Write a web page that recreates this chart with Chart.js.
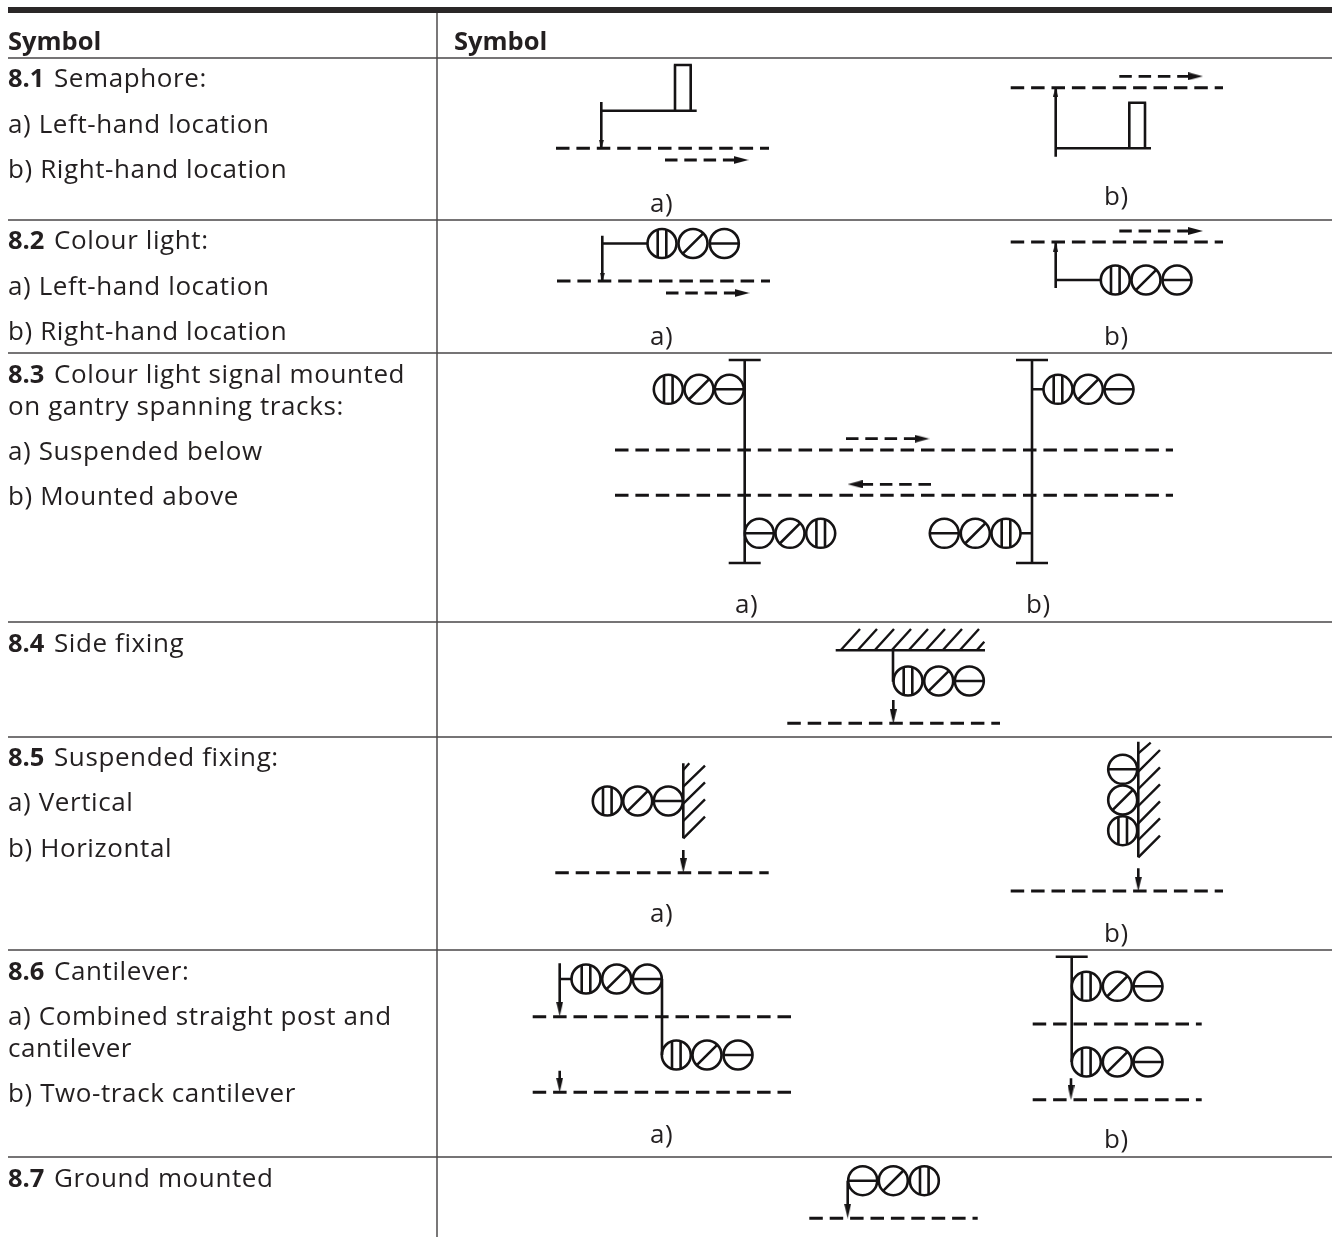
<!DOCTYPE html>
<html>
<head>
<meta charset="utf-8">
<title>Symbols</title>
<script src="https://cdn.jsdelivr.net/npm/chart.js@4/dist/chart.umd.js"></script>
<style>
html, body { margin: 0; padding: 0; background: #fff; }
canvas { display: block; }
</style>
</head>
<body>
<canvas id="chart" width="1332" height="1237"></canvas>
<script>
// everything below is in picture units, x to the right, y downwards
var heavyRule = [[8, 10, 1332, 10]];
var rowRules = [
    [8, 58, 1332, 58], [8, 220, 1332, 220], [8, 353, 1332, 353], [8, 622, 1332, 622],
    [8, 737, 1332, 737], [8, 950, 1332, 950], [8, 1157, 1332, 1157]
];
var columnRule = [[437, 13, 437, 1237]];

var trackLines = [
    [556, 148.3, 769, 148.3], [1010.7, 87.7, 1223, 87.7],
    [557, 281, 770, 281], [1010.7, 242, 1223, 242],
    [615, 450, 1173, 450], [615, 495.3, 1173, 495.3],
    [787.3, 723.3, 1000, 723.3],
    [555.3, 872.7, 768.7, 872.7], [1010.7, 891, 1223, 891],
    [532.7, 1016.7, 791.7, 1016.7], [532.7, 1092.3, 791.7, 1092.3],
    [1032.7, 1024, 1201.7, 1024], [1032.7, 1099.7, 1201.7, 1099.7],
    [809.3, 1218.3, 977.7, 1218.3]
];
var directionLines = [
    [665, 160, 735.4, 160], [1119.3, 76.3, 1189.7, 76.3],
    [666, 293, 736.4, 293], [1119.3, 231, 1189.7, 231],
    [846, 438.7, 916.4, 438.7], [931, 484.3, 860.6, 484.3]
];
var postLines = [
    // 8.1
    [601.3, 102, 601.3, 148], [601.3, 110.7, 696.7, 110.7],
    [675, 65, 675, 110.7], [690.7, 65, 690.7, 110.7], [673.8, 65, 691.9, 65],
    [1055.7, 88, 1055.7, 156.7], [1055.7, 148.3, 1151, 148.3],
    [1129.3, 102.7, 1129.3, 148.3], [1145, 102.7, 1145, 148.3], [1128.1, 102.7, 1146.2, 102.7],
    // 8.2
    [602.3, 235.7, 602.3, 281], [602.3, 243.5, 648, 243.5],
    [1055.7, 242, 1055.7, 288], [1055.7, 280, 1101, 280],
    // 8.3
    [744.7, 360, 744.7, 563], [728.7, 360, 760.7, 360], [728.7, 563, 760.7, 563],
    [1032, 360, 1032, 563], [1016, 360, 1048, 360], [1016, 563, 1048, 563],
    [1032, 389.3, 1044, 389.3], [1020, 533.3, 1032, 533.3],
    // 8.4
    [835.7, 650.3, 985, 650.3], [893, 650.3, 893, 681.7], [893.3, 700, 893.3, 715],
    // 8.5
    [683.3, 763.3, 683.3, 838.3], [683.3, 850, 683.3, 862],
    [1138.3, 741.7, 1138.3, 857.3], [1138.3, 868.3, 1138.3, 880],
    // 8.6
    [559.7, 963.3, 559.7, 1006], [559.7, 979, 572, 979], [662, 979, 662, 1055],
    [559.7, 1070.7, 559.7, 1082],
    [1071.7, 956.7, 1071.7, 1062], [1055.7, 956.7, 1087.7, 956.7], [1071, 1078.3, 1071, 1090],
    // 8.7
    [847.7, 1180.7, 847.7, 1207]
];
var hatchLines = [
    [840.7, 650.3, 860, 629], [857.7, 650.3, 877, 629], [874.7, 650.3, 894, 629], [891.7, 650.3, 911, 629],
    [908.7, 650.3, 928, 629], [925.7, 650.3, 945, 629], [942.7, 650.3, 962, 629], [959.7, 650.3, 979, 629],
    [976.7, 650.3, 984.3, 641.7],
    [683.3, 838.3, 705, 816.7], [683.3, 821, 705, 799.3], [683.3, 803.7, 705, 782.3], [683.3, 786.7, 705, 765.7],
    [683.3, 770, 689.3, 763.3],
    [1138.3, 857.3, 1160, 835.7], [1138.3, 840, 1160, 818.3], [1138.3, 823.3, 1160, 801.3], [1138.3, 806, 1160, 784.3],
    [1138.3, 789, 1160, 767.3], [1138.3, 771.7, 1160, 750], [1138.3, 753.3, 1150.7, 742.7]
];

var lampsVertical = [
    [662, 243.5], [1115.3, 280], [668.3, 389.3], [820.7, 533.3], [1058, 389.3], [1006, 533.3],
    [908, 681], [607.3, 801], [1122.7, 830.7], [586, 979], [676.3, 1055], [1086.3, 986.3], [1086.3, 1062],
    [924.3, 1180.7]
];
var lampsDiagonal = [
    [693, 243.5], [1146, 280], [699, 389.3], [790, 533.3], [1088.3, 389.3], [975.3, 533.3],
    [938.7, 681], [637.7, 801], [1122.7, 800], [616.7, 979], [707, 1055], [1117.3, 986.3], [1117.3, 1062],
    [893.3, 1180.7]
];
var lampsHorizontal = [
    [724.3, 243.5], [1177, 280], [729.3, 389.3], [759.3, 533.3], [1119, 389.3], [944.3, 533.3],
    [969.3, 681], [668.3, 801], [1122.7, 769.3], [647.3, 979], [738, 1055], [1148, 986.3], [1148, 1062],
    [862.7, 1180.7]
];

// arrow heads: x, y of the head centre and the direction in degrees
var wideHeads = [
    [741, 160, 0], [1195.4, 76.3, 0], [742, 293, 0], [1195.4, 231, 0], [922, 438.7, 0], [855, 484.3, 180]
];
var narrowHeads = [
    [893.3, 716.5, 90], [683.3, 865.5, 90], [1138.3, 884, 90],
    [559.7, 1009, 90], [559.7, 1085, 90], [1071, 1092.5, 90], [847.7, 1211, 90]
];
var smallHeads = [
    [601.3, 144, 90], [602.3, 277, 90], [1055.7, 92, 270], [1055.7, 247, 270]
];

var boldLabels = [
    ["Symbol", 8, 50], ["Symbol", 454, 50],
    ["8.1", 8, 87], ["8.2", 8, 249], ["8.3", 8, 383], ["8.4", 8, 652],
    ["8.5", 8, 766], ["8.6", 8, 980], ["8.7", 8, 1187]
];
var plainLabels = [
    ["Semaphore:", 54, 87], ["a) Left-hand location", 8, 133], ["b) Right-hand location", 8, 178],
    ["Colour light:", 54, 249], ["a) Left-hand location", 8, 295], ["b) Right-hand location", 8, 340],
    ["Colour light signal mounted", 54, 383], ["on gantry spanning tracks:", 8, 415],
    ["a) Suspended below", 8, 460], ["b) Mounted above", 8, 505],
    ["Side fixing", 54, 652],
    ["Suspended fixing:", 54, 766], ["a) Vertical", 8, 811], ["b) Horizontal", 8, 857],
    ["Cantilever:", 54, 980], ["a) Combined straight post and", 8, 1025], ["cantilever", 8, 1057],
    ["b) Two-track cantilever", 8, 1102],
    ["Ground mounted", 54, 1187],
    ["a)", 650, 212], ["b)", 1104, 205], ["a)", 650, 345], ["b)", 1104, 345],
    ["a)", 735, 613], ["b)", 1026, 613], ["a)", 650, 922], ["b)", 1104, 942],
    ["a)", 650, 1143], ["b)", 1104, 1148]
];

var INK = "#151314";
var TEXT_INK = "#231f20";
var LAMP_RADIUS = 14.5;
var SYMBOL_WIDTH = 2.6;

// [x1,y1,x2,y2] lists -> one scatter series, broken by NaN points
function toPoints(lines) {
    var points = [];
    lines.forEach(function (l) {
        points.push({ x: l[0], y: l[1] }, { x: l[2], y: l[3] }, { x: NaN, y: NaN });
    });
    return points;
}

function xy(list) {
    return list.map(function (p) { return { x: p[0], y: p[1] }; });
}

function lampStrokes() {
    var lines = [];
    lampsVertical.forEach(function (p) {
        lines.push([p[0] - 4.3, p[1] - 13.8, p[0] - 4.3, p[1] + 13.8], [p[0] + 4.3, p[1] - 13.8, p[0] + 4.3, p[1] + 13.8]);
    });
    lampsDiagonal.forEach(function (p) {
        lines.push([p[0] - 10.2, p[1] + 10.2, p[0] + 10.2, p[1] - 10.2]);
    });
    lampsHorizontal.forEach(function (p) {
        lines.push([p[0] - LAMP_RADIUS, p[1], p[0] + LAMP_RADIUS, p[1]]);
    });
    return lines;
}

// arrow head image pointing right, Chart.js rotates it per point
function headImage(len, wide) {
    var c = document.createElement("canvas");
    c.width = len;
    c.height = wide;
    var g = c.getContext("2d");
    g.fillStyle = INK;
    g.beginPath();
    g.moveTo(0, 0);
    g.lineTo(len, wide / 2);
    g.lineTo(0, wide);
    g.closePath();
    g.fill();
    return c;
}

function lineSet(label, lines, color, width, dash) {
    return {
        label: label,
        data: toPoints(lines),
        showLine: true,
        borderColor: color,
        borderWidth: width,
        borderDash: dash || [],
        borderCapStyle: "butt",
        pointRadius: 0,
        spanGaps: false
    };
}

function lampSet(label, list) {
    return {
        label: label,
        data: xy(list),
        showLine: false,
        pointStyle: "circle",
        pointRadius: LAMP_RADIUS,
        pointBorderWidth: SYMBOL_WIDTH,
        pointBorderColor: INK,
        pointBackgroundColor: "rgba(0,0,0,0)"
    };
}

function headSet(label, list, image) {
    return {
        label: label,
        data: xy(list),
        showLine: false,
        pointStyle: image,
        pointRotation: list.map(function (p) { return p[2]; })
    };
}

var textPlugin = {
    id: "tableText",
    afterDatasetsDraw: function (chart) {
        var ctx = chart.ctx, sx = chart.scales.x, sy = chart.scales.y;
        ctx.save();
        ctx.fillStyle = TEXT_INK;
        ctx.textBaseline = "alphabetic";
        ctx.letterSpacing = "0.6px";
        ctx.font = "26px 'Open Sans'";
        plainLabels.forEach(function (t) {
            ctx.fillText(t[0], sx.getPixelForValue(t[1]), sy.getPixelForValue(t[2]));
        });
        ctx.letterSpacing = "0px";
        ctx.font = "bold 25.5px 'Open Sans'";
        boldLabels.forEach(function (t) {
            ctx.fillText(t[0], sx.getPixelForValue(t[1]), sy.getPixelForValue(t[2]));
        });
        ctx.restore();
    }
};

new Chart(document.getElementById("chart").getContext("2d"), {
    type: "scatter",
    data: {
        datasets: [
            lineSet("heavy rule", heavyRule, "#2a2728", 6),
            lineSet("row rules", rowRules, "#4a4748", 1.5),
            lineSet("column rule", columnRule, "#333031", 1.3),
            lineSet("tracks", trackLines, INK, 3, [13.5, 6.9]),
            lineSet("directions", directionLines, INK, 2.8, [12.5, 6.8]),
            lineSet("posts", postLines, INK, SYMBOL_WIDTH),
            lineSet("hatching", hatchLines, INK, 2.4),
            lineSet("lamp strokes", lampStrokes(), INK, SYMBOL_WIDTH),
            lampSet("vertical lamps", lampsVertical),
            lampSet("diagonal lamps", lampsDiagonal),
            lampSet("horizontal lamps", lampsHorizontal),
            headSet("wide heads", wideHeads, headImage(15, 8)),
            headSet("narrow heads", narrowHeads, headImage(15, 7)),
            headSet("small heads", smallHeads, headImage(9, 5))
        ]
    },
    options: {
        responsive: false,
        animation: false,
        events: [],
        layout: { padding: 0, autoPadding: false },
        plugins: { legend: { display: false }, tooltip: { enabled: false } },
        scales: {
            x: { type: "linear", display: false, min: 0, max: 1332 },
            y: { type: "linear", display: false, min: 0, max: 1237, reverse: true }
        }
    },
    plugins: [textPlugin]
});
</script>
</body>
</html>
